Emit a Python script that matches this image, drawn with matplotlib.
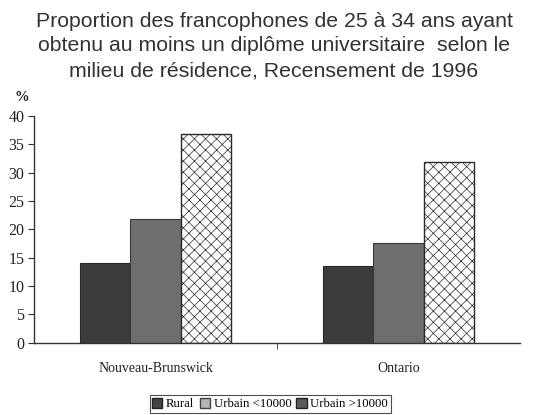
import matplotlib
matplotlib.use("Agg")
import matplotlib.pyplot as plt
from matplotlib.patches import Patch
import numpy as np

categories = ["Nouveau-Brunswick", "Ontario"]
series_names = ["Rural", "Urbain <10000", "Urbain >10000"]
rural = [14.1, 13.5]
urbain_petit = [21.9, 17.5]
urbain_grand = [36.8, 31.9]
yticks = [0, 5, 10, 15, 20, 25, 30, 35, 40]

plt.rcParams['hatch.color'] = '#b8b8b8'
plt.rcParams['hatch.linewidth'] = 0.5

fig = plt.figure(figsize=(5.48, 4.15), dpi=100)
ax = fig.add_axes([0.062, 0.174, 0.887, 0.547])

x = np.arange(len(categories))
w = 0.208
ax.bar(x - w, rural, w, color='#3b3b3b', edgecolor='#2a2a2a', linewidth=0.8)
ax.bar(x, urbain_petit, w, color='#6e6e6e', edgecolor='#3a3a3a', linewidth=0.8)
ax.bar(x + w, urbain_grand, w, color='white', edgecolor='#2a2a2a', linewidth=1.0, hatch='xxx')

ax.set_xlim(-0.5, 1.5)
ax.set_ylim(0, 40)
ax.set_yticks(yticks)
ax.set_xticks(x)
ax.set_xticklabels(categories, fontsize=10, family='Liberation Serif', color='#222222')
ax.tick_params(axis='x', length=0, pad=14)
ax.set_xticks([0.5], minor=True)
ax.tick_params(axis='x', which='minor', length=4, direction='out', color='#333333')
ax.tick_params(axis='y', length=4, direction='out', color='#333333', labelsize=11.5, pad=3)
for lab in ax.get_yticklabels():
    lab.set_family('Liberation Serif')
    lab.set_color('#222222')
for s in ['top', 'right']:
    ax.spines[s].set_visible(False)
ax.spines['left'].set_color('#333333')
ax.spines['bottom'].set_color('#333333')
ax.spines['left'].set_linewidth(1.0)
ax.spines['bottom'].set_linewidth(1.0)

fig.text(0.5, 0.972, "Proportion des francophones de 25 à 34 ans ayant\nobtenu au moins un diplôme universitaire  selon le\nmilieu de résidence, Recensement de 1996",
         ha='center', va='top', fontsize=15.3, family='Liberation Sans', color='#333333', linespacing=1.38)
fig.text(0.027, 0.765, "%", fontsize=10.5, family='Liberation Serif', fontweight='bold', color='#222222', ha='left', va='center')

handles = [Patch(facecolor='#444444', edgecolor='#222222'),
           Patch(facecolor='#b5b5b5', edgecolor='#444444'),
           Patch(facecolor='#5a5a5a', edgecolor='#222222')]
leg = fig.legend(handles, series_names, loc='center', bbox_to_anchor=(0.493, 0.026), ncol=3,
                 prop={'family': 'Liberation Serif', 'size': 9.2}, frameon=True, fancybox=False,
                 edgecolor='#222222', handlelength=0.8, handleheight=0.8, handletextpad=0.3,
                 columnspacing=0.4, borderpad=0.2, borderaxespad=0)
leg.get_frame().set_linewidth(0.8)

fig.savefig("out.png", dpi=100)
